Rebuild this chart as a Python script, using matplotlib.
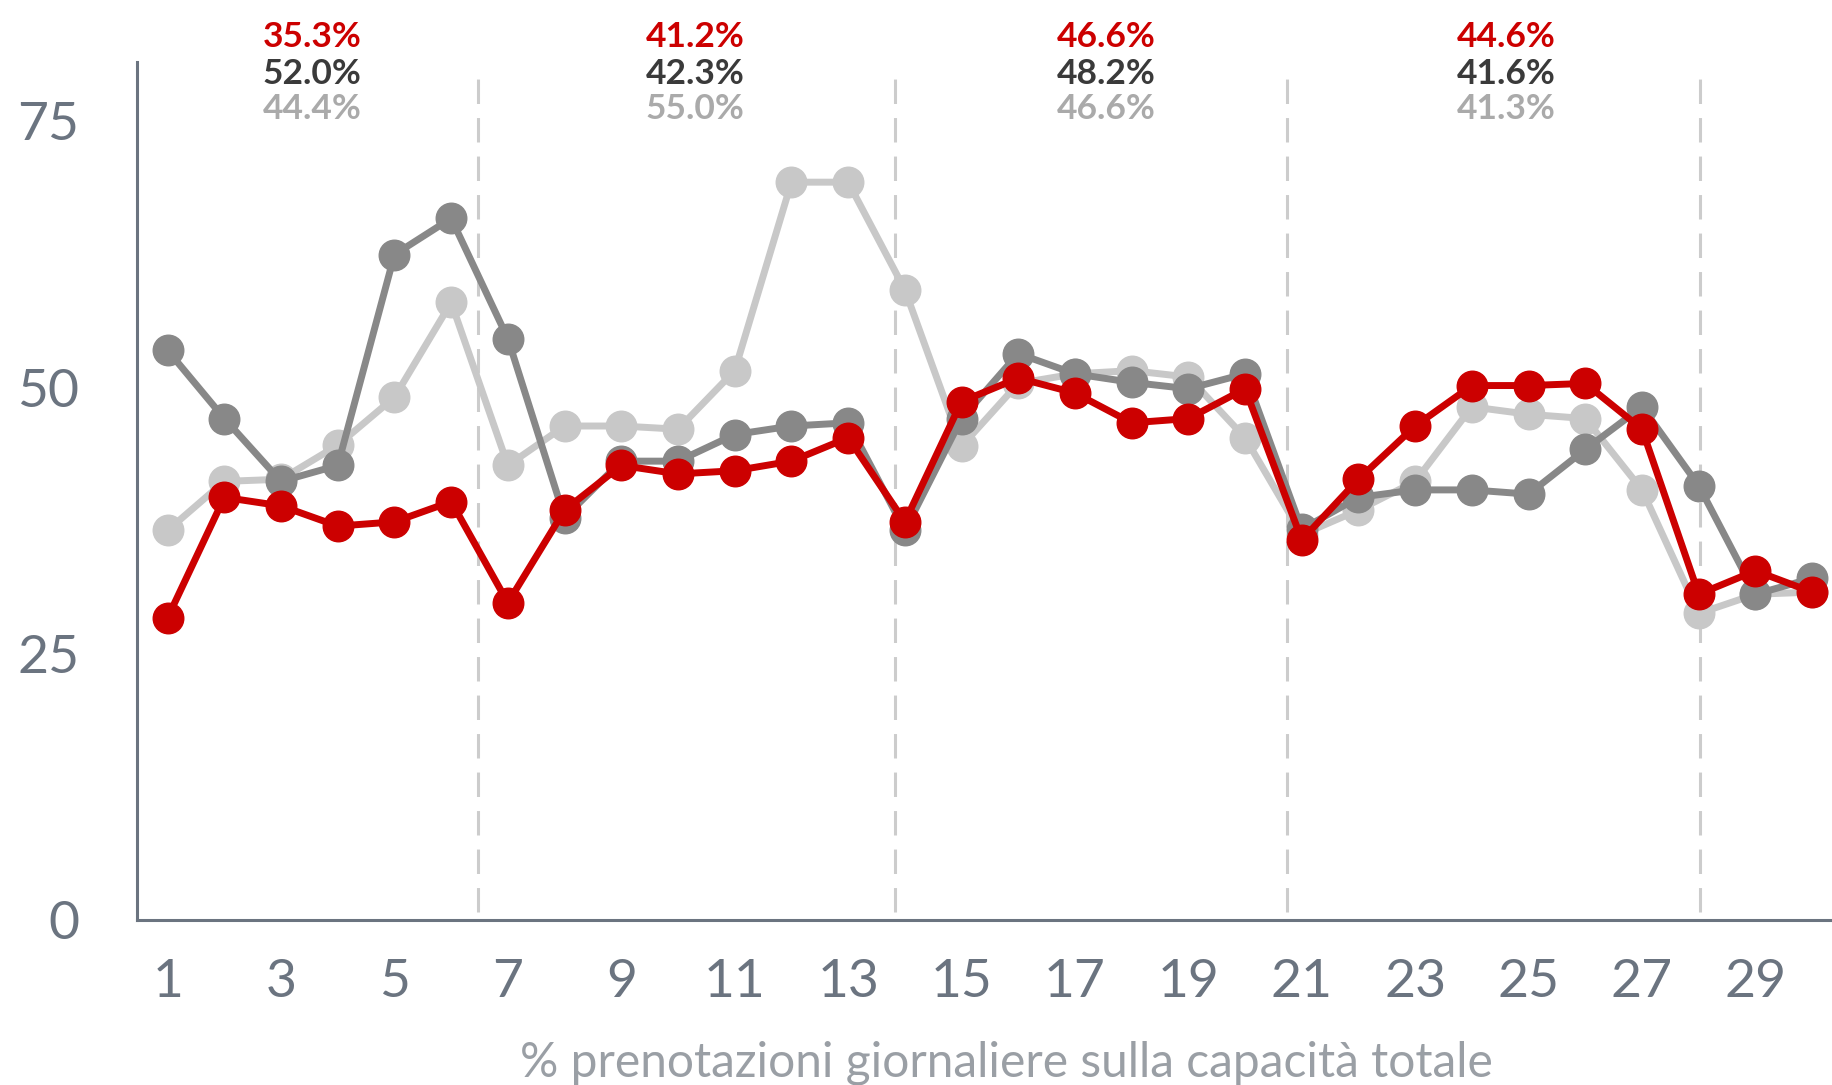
import numpy as np
import matplotlib.pyplot as plt

plt.rcParams['font.family'] = ['Lato', 'DejaVu Sans']

# daily values (% bookings over total capacity)
days = np.arange(1, 31)
serie_chiara = [36.6, 41.2, 41.4, 44.6, 49.1, 58.0, 42.7, 46.4, 46.4, 46.1,
                51.6, 69.3, 69.3, 59.2, 44.5, 50.4, 51.3, 51.6, 51.0, 45.3,
                36.2, 38.5, 41.2, 48.2, 47.5, 47.1, 40.4, 28.8, 30.6, 30.8]
serie_scura = [53.5, 47.1, 41.2, 42.7, 62.5, 65.9, 54.6, 37.8, 43.1, 43.1,
               45.6, 46.4, 46.7, 36.6, 47.1, 53.2, 51.3, 50.5, 49.9, 51.3,
               36.7, 39.7, 40.4, 40.4, 40.0, 44.2, 48.2, 40.8, 30.6, 32.1]
serie_rossa = [28.4, 39.7, 38.9, 37.0, 37.4, 39.3, 29.8, 38.5, 42.7, 41.9,
               42.2, 43.1, 45.3, 37.4, 48.7, 50.9, 49.5, 46.7, 47.1, 49.9,
               35.7, 41.4, 46.4, 50.2, 50.2, 50.4, 46.1, 30.6, 32.8, 30.8]

# weekly averages shown at top
sep_x = [6.48, 13.83, 20.74, 28.03]
label_x = [3.55, 10.3, 17.55, 24.6]
media_rossa = ['35.3%', '41.2%', '46.6%', '44.6%']
media_scura = ['52.0%', '42.3%', '48.2%', '41.6%']
media_chiara = ['44.4%', '55.0%', '46.6%', '41.3%']

c_red = '#cc0000'
c_dark = '#888888'
c_light = '#c8c8c8'
axis_col = '#6b7480'

fig = plt.figure(figsize=(18.32, 10.85), dpi=100)
ax = fig.add_axes([0.0748, 0.152, 0.9252, 0.791])

for x in sep_x:
    ax.vlines(x, 0.8, 80.2, colors='#cccccc', linewidth=2.2,
              linestyles=(0, (8, 4.6)), zorder=1)

kw = dict(linewidth=5, marker='o', markersize=22)
ax.plot(days, serie_chiara, color=c_light, zorder=2, **kw)
ax.plot(days, serie_scura, color=c_dark, zorder=3, **kw)
ax.plot(days, serie_rossa, color=c_red, zorder=4, **kw)

for x, r, d, l in zip(label_x, media_rossa, media_scura, media_chiara):
    ax.text(x, 82.9, r, color=c_red, fontsize=25.5, fontweight='bold',
            ha='center', va='center', clip_on=False)
    ax.text(x, 79.5, d, color='#3a3a3a', fontsize=25.5, fontweight='bold',
            ha='center', va='center', clip_on=False)
    ax.text(x, 76.2, l, color='#aaaaaa', fontsize=25.5, fontweight='bold',
            ha='center', va='center', clip_on=False)

ax.set_xlim(0.46, 30.35)
ax.set_ylim(0, 80.6)
ax.set_xticks(range(1, 30, 2))
ax.set_yticks([0, 25, 50, 75])
ax.tick_params(axis='both', length=0, labelsize=38.5, labelcolor=axis_col)
ax.tick_params(axis='y', pad=41.5)
ax.tick_params(axis='x', pad=28)

for s in ['top', 'right']:
    ax.spines[s].set_visible(False)
for s in ['left', 'bottom']:
    ax.spines[s].set_color(axis_col)
    ax.spines[s].set_linewidth(2.2)

ax.set_xlabel('% prenotazioni giornaliere sulla capacità totale',
              fontsize=34.5, color='#9a9fa5')
ax.xaxis.set_label_coords(0.513, -0.14)

fig.savefig('out.png', dpi=100)
